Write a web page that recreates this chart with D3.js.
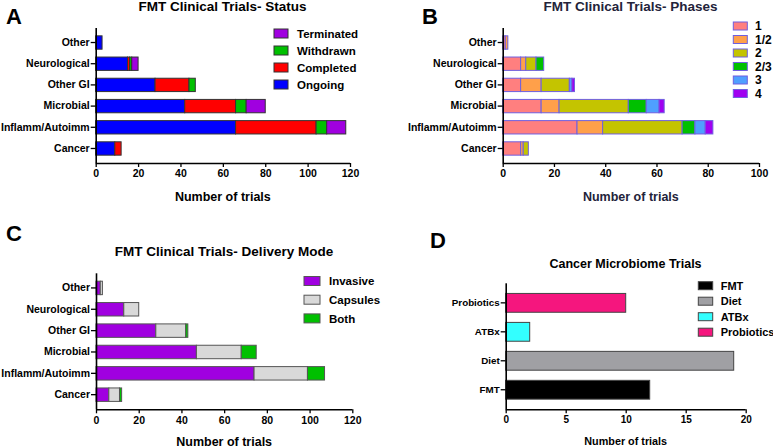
<!DOCTYPE html>
<html><head><meta charset="utf-8">
<script src="https://cdn.jsdelivr.net/npm/d3@7"></script>
<style>
body{margin:0;background:#fff;}
svg{display:block;font-family:"Liberation Sans",Arial,Helvetica,sans-serif;}
</style></head>
<body><svg id="c" width="773" height="448"></svg>
<script>
// ---------- DATA ----------
const categories = ["Other","Neurological","Other GI","Microbial","Inflamm/Autoimm","Cancer"];

const statusKeys = ["Ongoing","Completed","Withdrawn","Terminated"];
const statusOngoing    = [3, 15, 28, 42, 66, 9];
const statusCompleted  = [0, 1, 16, 24, 38, 3];
const statusWithdrawn  = [0, 1, 3, 5, 5, 0];
const statusTerminated = [0, 3, 0, 9, 9, 0];
const statusColors = ["#0000ff","#ff0000","#00c000","#a000e0"];

const phaseKeys = ["1","1/2","2","2/3","3","4"];
const phase1  = [1, 7, 7, 15, 29, 7];
const phase12 = [1, 2, 8, 7, 10, 1];
const phase2  = [0, 4, 11, 27, 31, 2];
const phase23 = [0, 3, 0, 7, 5, 0];
const phase3  = [0, 0, 1, 5, 4, 0];
const phase4  = [0, 0, 1, 2, 3, 0];
const phaseColors = ["#ff7f7f","#ffa04a","#c4c400","#00c000","#4f9fff","#a000f0"];

const deliveryKeys = ["Invasive","Capsules","Both"];
const deliveryInvasive = [2, 13, 28, 47, 74, 6];
const deliveryCapsules = [1, 7, 14, 21, 25, 5];
const deliveryBoth     = [0, 0, 1, 7, 8, 1];
const deliveryColors = ["#a000e0","#d9d9d9","#00c000"];

const cancerCategories = ["Probiotics","ATBx","Diet","FMT"];
const cancerValues = [10, 2, 19, 12];
const cancerLegend = ["FMT","Diet","ATBx","Probiotics"];
const cancerColorMap = {FMT:"#000000", Diet:"#a0a0a4", ATBx:"#33ffff", Probiotics:"#f5167e"};

const ticksA = [0,20,40,60,80,100,120];
const ticksB = [0,20,40,60,80,100];
const ticksC = [0,20,40,60,80,100,120];
const ticksD = [0,5,10,15,20];

// ---------- DRAW ----------
const svg = d3.select("#c");

function panel(o){
  const g = svg.append("g");
  const x = d3.scaleLinear().domain(o.xDomain).range(o.xRange);
  const y = d3.scaleBand().domain(o.cats).range(o.yRange).padding(o.pad);
  const rows = o.cats.map((c,i)=>{const r={cat:c}; o.keys.forEach((k,j)=>r[k]=o.series[j][i]); return r;});
  const stacked = d3.stack().keys(o.keys)(rows);
  stacked.forEach((layer,j)=>{
    g.selectAll(null).data(layer.filter(d=>d[1]-d[0]>0)).enter().append("rect")
      .attr("x",d=>x(d[0])).attr("width",d=>x(d[1])-x(d[0]))
      .attr("y",d=>y(d.data.cat)).attr("height",y.bandwidth())
      .attr("fill",d=>o.colorFn?o.colorFn(d.data.cat):o.colors[j])
      .attr("stroke",o.stroke).attr("stroke-width",o.sw||1);
  });
  const xa = g.append("g").attr("transform",`translate(0,${o.yRange[1]})`)
    .call(d3.axisBottom(x).tickValues(o.ticks).tickSize(4).tickPadding(3).tickSizeOuter(0));
  const ya = g.append("g").attr("transform",`translate(${o.xRange[0]},0)`)
    .call(d3.axisLeft(y).tickSize(5).tickPadding(1).tickSizeOuter(0));
  [xa,ya].forEach(a=>{
    a.select(".domain").attr("stroke","#000").attr("stroke-width",1.6);
    a.selectAll(".tick line").attr("stroke","#000").attr("stroke-width",1.3);
    a.selectAll("text").attr("font-family","'Liberation Sans',Arial,sans-serif").attr("font-weight","bold").attr("fill","#000");
  });
  xa.selectAll("text").attr("font-size",o.tickFs);
  ya.selectAll("text").attr("font-size",o.catFs);
  ya.select(".domain").attr("d",`M0.5,${o.yRange[0]}V${o.yRange[1]}`);
  xa.select(".domain").attr("d",`M${o.xRange[0]},0.5H${o.xRange[1]}`);
  g.append("text").attr("x",o.titleX).attr("y",o.titleY).attr("text-anchor","middle")
    .attr("font-weight","bold").attr("font-size",o.titleFs).attr("fill",o.textColor||"#000").text(o.title);
  g.append("text").attr("x",(o.xRange[0]+o.xRange[1])/2).attr("y",o.xlabY).attr("text-anchor","middle")
    .attr("font-weight","bold").attr("font-size",o.xlabFs).attr("fill",o.textColor||"#000").text("Number of trials");
  g.append("text").attr("x",o.letterX).attr("y",o.letterY).attr("font-weight","bold")
    .attr("font-size",22).text(o.letter);
  const lg = g.append("g");
  o.legend.forEach((name,i)=>{
    const cy = o.legY + i*o.legStep;
    lg.append("rect").attr("x",o.legX).attr("y",cy-o.swH/2).attr("width",o.swW).attr("height",o.swH)
      .attr("fill",o.legColor(name,i)).attr("stroke",o.stroke).attr("stroke-width",1);
    lg.append("text").attr("x",o.legTextX).attr("y",cy).attr("dy","0.36em")
      .attr("font-weight","bold").attr("font-size",o.legFs).text(name);
  });
}

// A
panel({cats:categories, keys:statusKeys, series:[statusOngoing,statusCompleted,statusWithdrawn,statusTerminated],
  colors:statusColors, stroke:"#333", xDomain:[0,120], xRange:[95.7,350], yRange:[28,163], pad:0.37,
  ticks:ticksA, tickFs:10.5, catFs:10.5,
  title:"FMT Clinical Trials- Status", titleX:222.5, titleY:11, titleFs:13.5,
  xlabY:201, xlabFs:12.5, letter:"A", letterX:6, letterY:24,
  legend:["Terminated","Withdrawn","Completed","Ongoing"],
  legColor:(n)=>statusColors[statusKeys.indexOf(n)],
  legX:274, legY:33.5, legStep:17, swW:14, swH:9, legTextX:297, legFs:11.5});

// B
panel({cats:categories, keys:phaseKeys, series:[phase1,phase12,phase2,phase23,phase3,phase4],
  colors:phaseColors, stroke:"#6f5fe0", sw:1, xDomain:[0,100], xRange:[502.7,759], yRange:[28,163], pad:0.37,
  ticks:ticksB, tickFs:10.5, catFs:10.5, textColor:"#23233a",
  title:"FMT Clinical Trials- Phases", titleX:630.5, titleY:11, titleFs:13.5,
  xlabY:201, xlabFs:12.5, letter:"B", letterX:422, letterY:24,
  legend:phaseKeys, legColor:(n,i)=>phaseColors[i],
  legX:733.3, legY:26, legStep:13.5, swW:14, swH:8, legTextX:755, legFs:12});

// C
panel({cats:categories, keys:deliveryKeys, series:[deliveryInvasive,deliveryCapsules,deliveryBoth],
  colors:deliveryColors, stroke:"#555", xDomain:[0,120], xRange:[96,352.3], yRange:[273.3,409.3], pad:0.37,
  ticks:ticksC, tickFs:10.5, catFs:10.5,
  title:"FMT Clinical Trials- Delivery Mode", titleX:224, titleY:255.5, titleFs:13.5,
  xlabY:446, xlabFs:12.5, letter:"C", letterX:6, letterY:241,
  legend:deliveryKeys, legColor:(n,i)=>deliveryColors[i],
  legX:304, legY:281, legStep:18.7, swW:16, swH:9, legTextX:329, legFs:11.5});

// D
panel({cats:cancerCategories, keys:["v"], series:[cancerValues],
  colors:["#000"], colorFn:(c)=>cancerColorMap[c], stroke:"#444", xDomain:[0,20], xRange:[505.7,745.7], yRange:[283.3,409.3], pad:0.35,
  ticks:ticksD, tickFs:10, catFs:9.8,
  title:"Cancer Microbiome Trials", titleX:625.5, titleY:267.5, titleFs:12.5,
  xlabY:445, xlabFs:10.8, letter:"D", letterX:430, letterY:248,
  legend:cancerLegend, legColor:(n)=>cancerColorMap[n],
  legX:698.3, legY:285.7, legStep:15.5, swW:14.4, swH:8, legTextX:720.7, legFs:11});
</script>
</body></html>
